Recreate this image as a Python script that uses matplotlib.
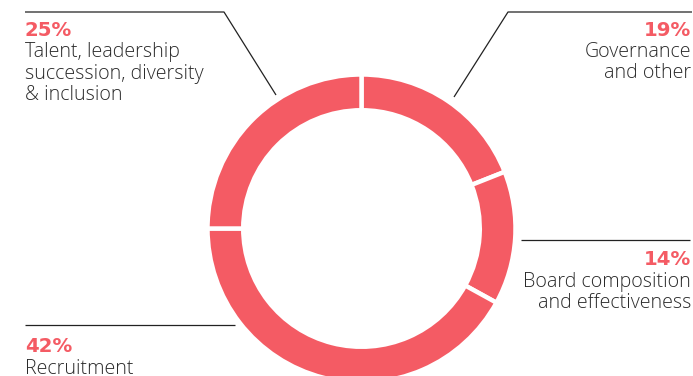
import matplotlib
matplotlib.use("Agg")
import matplotlib.pyplot as plt

categories = ["Governance\nand other", "Board composition\nand effectiveness", "Recruitment",
              "Talent, leadership\nsuccession, diversity\n& inclusion"]
values = [19, 14, 42, 25]
pct_labels = ["19%", "14%", "42%", "25%"]

RED = "#F45B64"
TXT = "#2b2b2b"
W, H = 693, 376

fig = plt.figure(figsize=(W / 100, H / 100), dpi=100)
ax = fig.add_axes([0, 0, 1, 1])

def Y(y):
    return H - y

cx, cy, R = 361.5, 228.5, 154
ax.pie(values, startangle=90, counterclock=False, center=(cx, Y(cy)), radius=R,
       colors=[RED] * len(values),
       wedgeprops=dict(width=R * 0.232, edgecolor="white", linewidth=3.2))
ax.set_xlim(0, W)
ax.set_ylim(0, H)
ax.set_aspect("equal")
ax.axis("off")

lc = dict(color="#222222", lw=0.9, solid_capstyle="butt")
# leader lines (layout)
ax.plot([25, 224, 276], [Y(12), Y(12), Y(95)], **lc)
ax.plot([692, 508, 454], [Y(12), Y(12), Y(97)], **lc)
ax.plot([521, 690], [Y(239.5), Y(239.5)], **lc)
ax.plot([25, 235], [Y(324.5), Y(324.5)], **lc)

fam = ["Open Sans", "DejaVu Sans"]
fs = 14.1
layout = {
    0: (691, 35.5, "right"),
    1: (691, 265, "right"),
    2: (25, 352.5, "left"),
    3: (25, 35.5, "left"),
}
for i, (x, yb, ha) in layout.items():
    ax.text(x, Y(yb), pct_labels[i], ha=ha, va="baseline", color=RED,
            fontsize=14.2, fontweight="bold", family=["DejaVu Sans"])
    for j, line in enumerate(categories[i].split("\n")):
        ax.text(x, Y(yb + 21.5 * (j + 1)), line, ha=ha, va="baseline", color=TXT,
                fontsize=fs, fontweight="light", family=fam)

fig.savefig("out.png", dpi=100, facecolor="white")
